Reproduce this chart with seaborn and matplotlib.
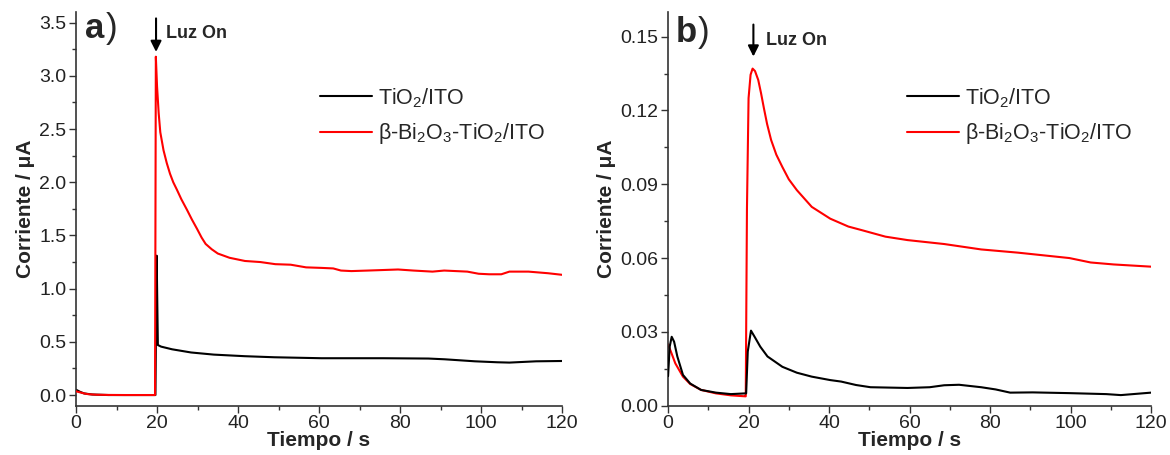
import numpy as np
import pandas as pd
import matplotlib
matplotlib.use("Agg")
import matplotlib.pyplot as plt
from matplotlib.ticker import MultipleLocator, FormatStrFormatter
from matplotlib.lines import Line2D
import seaborn as sns

# ---------------- data ----------------
series_names = ["TiO$_2$/ITO", "β-Bi$_2$O$_3$-TiO$_2$/ITO"]

# panel a
ta_blk = [0, 1, 2, 4, 8, 12, 16, 19.6, 19.9, 20.2, 21, 23.7, 28.4, 34, 41.7, 49, 60.6,
          75.8, 87, 91, 98.5, 104, 107, 113.6, 120]
ia_blk = [0.05, 0.03, 0.015, 0.005, 0.0, 0.0, 0.0, 0.0, 1.31, 0.47, 0.455, 0.43, 0.40,
          0.38, 0.365, 0.355, 0.346, 0.346, 0.343, 0.336, 0.317, 0.308, 0.305, 0.317, 0.32]

ta_red = [0, 1, 2, 3, 5, 8, 12, 16, 19.5, 19.7, 20.0, 20.4, 20.8, 21.6, 22.4, 23.2, 24.0,
          24.9, 26.0, 27.4, 28.6, 29.9, 31.0, 32.0, 33.5, 35, 37.9, 41.7, 45.5, 49.2, 53,
          56.8, 60.6, 63.5, 65.4, 68, 72, 75.8, 79.5, 83.3, 88, 90.9, 96.6, 99.4, 102, 105,
          107, 111.7, 116.5, 120]
ia_red = [0.035, 0.025, 0.015, 0.008, 0.003, 0.001, 0.0, 0.0, 0.0, 3.18, 2.90, 2.65, 2.47,
          2.30, 2.18, 2.08, 2.00, 1.93, 1.84, 1.74, 1.65, 1.56, 1.48, 1.42, 1.37, 1.33,
          1.29, 1.26, 1.25, 1.23, 1.225, 1.20, 1.195, 1.19, 1.17, 1.165, 1.17, 1.175, 1.18,
          1.17, 1.16, 1.17, 1.16, 1.14, 1.135, 1.135, 1.16, 1.16, 1.145, 1.13]

# panel b
tb_blk = [0, 0.4, 0.9, 1.5, 2.3, 3.7, 5.5, 8.2, 11.9, 15.6, 19.2, 19.4, 19.8, 20.6, 21.5,
          22.9, 24.7, 28.4, 32, 35.7, 40.3, 43, 46.7, 50.3, 59.5, 65, 68.6, 72.3, 77.8,
          81.4, 85, 90.6, 99.7, 108.9, 112.5, 120]
ib_blk = [0.012, 0.024, 0.028, 0.026, 0.020, 0.0125, 0.009, 0.0064, 0.0053, 0.0047, 0.005,
          0.005, 0.022, 0.0305, 0.028, 0.024, 0.020, 0.0158, 0.0134, 0.0118, 0.0104, 0.0098,
          0.0084, 0.0075, 0.0072, 0.0075, 0.0083, 0.0085, 0.0075, 0.0066, 0.0053, 0.0054,
          0.0051, 0.0047, 0.0043, 0.0053]

tb_red = [0, 1.8, 3.7, 5.5, 8.2, 11.9, 15.6, 19.2, 19.3, 19.6, 20.0, 20.5, 21.0, 21.6, 22.4,
          23.1, 23.8, 24.6, 25.6, 26.9, 28.4, 30.0, 32, 35.7, 40.3, 44.8, 48, 54, 59.5,
          68.6, 77.8, 86.9, 99.7, 105, 110.7, 120]
ib_red = [0.025, 0.0172, 0.0118, 0.0088, 0.0064, 0.005, 0.0042, 0.0038, 0.0038, 0.08, 0.125,
          0.1345, 0.137, 0.136, 0.1324, 0.127, 0.121, 0.1145, 0.108, 0.102, 0.097, 0.092,
          0.0876, 0.0808, 0.076, 0.0728, 0.0714, 0.0687, 0.0673, 0.0657, 0.0635, 0.0622,
          0.060, 0.0582, 0.0574, 0.0565]

xticks = [0, 20, 40, 60, 80, 100, 120]
yticks_a = [0.0, 0.5, 1.0, 1.5, 2.0, 2.5, 3.0, 3.5]
yticks_b = [0.00, 0.03, 0.06, 0.09, 0.12, 0.15]

# ---------------- style ----------------
sns.set_theme(style="ticks")
plt.rcParams["font.family"] = ["Liberation Sans", "DejaVu Sans"]
plt.rcParams["mathtext.default"] = "regular"

fig = plt.figure(figsize=(11.7, 4.55), dpi=100)
fig.patch.set_facecolor("white")
ax_a = fig.add_axes([0.065, 0.1084, 0.4154, 0.8652])
ax_b = fig.add_axes([0.571, 0.1084, 0.4128, 0.8652])

BLACK = "#000000"
RED = "#ff0000"
LW = 1.5

def draw(ax, t, i, color, order):
    df = pd.DataFrame({"t": t, "i": i})
    sns.lineplot(data=df, x="t", y="i", ax=ax, color=color, lw=LW, sort=False,
                 estimator=None, zorder=order)

draw(ax_a, ta_blk, ia_blk, BLACK, 2)
draw(ax_a, ta_red, ia_red, RED, 3)
draw(ax_b, tb_red, ib_red, RED, 2)
draw(ax_b, tb_blk, ib_blk, BLACK, 3)

for ax, yt, ylim, ymin, fmt in [(ax_a, yticks_a, (-0.1, 3.6), 0.25, "%.1f"),
                                 (ax_b, yticks_b, (0.0, 0.16), 0.015, "%.2f")]:
    ax.set_xlim(0, 120)
    ax.set_ylim(*ylim)
    ax.set_xticks(xticks)
    ax.set_yticks(yt)
    ax.xaxis.set_minor_locator(MultipleLocator(10))
    ax.yaxis.set_minor_locator(MultipleLocator(ymin))
    ax.yaxis.set_major_formatter(FormatStrFormatter(fmt))
    ax.set_xlabel("Tiempo / s", fontsize=15, fontweight="bold", labelpad=-1)
    ax.set_ylabel("Corriente / μA", fontsize=15, fontweight="bold", labelpad=3)
    ax.tick_params(which="major", direction="out", length=5, width=1.0, labelsize=14,
                   color="#333333", labelcolor="#222222", pad=2)
    ax.tick_params(which="minor", direction="out", length=3, width=1.0, color="#333333")
    for s in ["top", "right"]:
        ax.spines[s].set_visible(False)
    for s in ["left", "bottom"]:
        ax.spines[s].set_linewidth(1.2)
        ax.spines[s].set_color("#333333")
    ax.set_facecolor("white")

# panel letters: bold letter + regular parenthesis
for ax, x0, y0, letter in [(ax_a, 0.019, 0.959, "a"), (ax_b, 0.015, 0.949, "b")]:
    t = ax.text(x0, y0, letter, transform=ax.transAxes, fontsize=25, fontweight="bold",
                va="center", ha="left")
    ax.annotate(")", xycoords=t, xy=(1, 0.5), xytext=(1, 0), textcoords="offset points",
                fontsize=25, fontweight="normal", va="center", ha="left")

# Luz On arrows
arrowprops = dict(arrowstyle="-|>", color="black", lw=1.5, mutation_scale=16,
                  shrinkA=0, shrinkB=0)
ax_a.annotate("", xy=(19.75, 3.225), xytext=(19.75, 3.54), arrowprops=arrowprops)
ax_a.text(22.3, 3.40, "Luz On", fontsize=13, fontweight="bold", va="center", ha="left")
ax_b.annotate("", xy=(21.2, 0.1419), xytext=(21.2, 0.1549), arrowprops=arrowprops)
ax_b.text(24.3, 0.1485, "Luz On", fontsize=13, fontweight="bold", va="center", ha="left")

# legends
handles = [Line2D([], [], color=BLACK, lw=LW), Line2D([], [], color=RED, lw=LW)]
for x0 in (320, 907):
    fig.legend(handles, series_names, loc="upper left",
               bbox_to_anchor=(x0 / 1170, 1 - 86 / 455), bbox_transform=fig.transFigure,
               frameon=False, fontsize=15.5, handlelength=2.4, handletextpad=0.3,
               labelspacing=0.55, borderpad=0, borderaxespad=0)

fig.savefig("out.png", dpi=100, facecolor="white")
